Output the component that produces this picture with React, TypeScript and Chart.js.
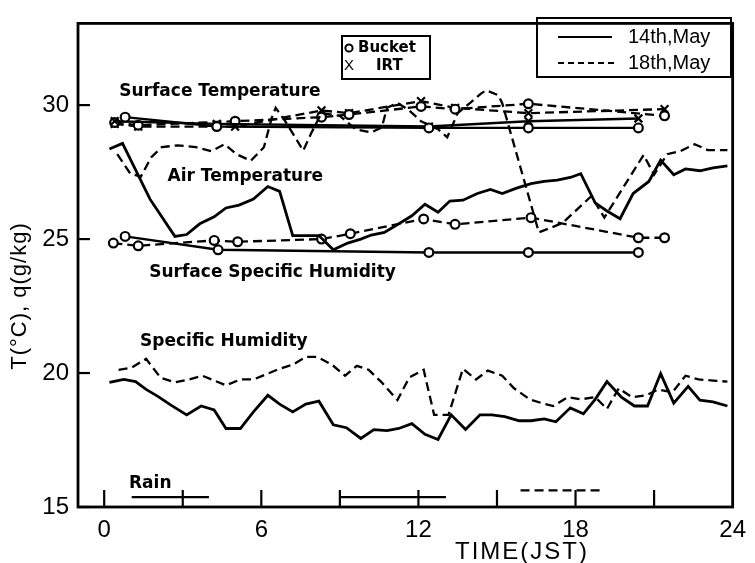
import React, { useEffect, useRef } from "react";
import { Chart, registerables } from "chart.js";

Chart.register(...registerables);

// ---------------- DATA ----------------
const xTickLabels = [0, 6, 12, 18, 24];
const xMinorTicks = [0, 3, 6, 9, 12, 15, 18, 21];
const yTickLabels = [15, 20, 25, 30];

// Air temperature (degC)
const airT14Time = [0.2, 0.7, 1.75, 2.7, 3.15, 3.65, 4.2, 4.65, 5.15, 5.7, 6.25, 6.7, 7.2, 8.2, 8.75, 9.3, 9.8, 10.2, 10.7, 11.3, 11.75, 12.25, 12.75, 13.2, 13.7, 14.25, 14.75, 15.2, 15.75, 16.3, 16.8, 17.3, 17.8, 18.2, 18.75, 19.2, 19.7, 20.2, 20.8, 21.25, 21.75, 22.2, 22.75, 23.25, 23.8];
const airT14 = [28.36, 28.57, 26.49, 25.1, 25.17, 25.57, 25.83, 26.16, 26.27, 26.49, 26.96, 26.78, 25.13, 25.13, 24.6, 24.85, 25.0, 25.15, 25.25, 25.6, 25.87, 26.3, 26.0, 26.42, 26.45, 26.7, 26.85, 26.7, 26.9, 27.07, 27.15, 27.2, 27.3, 27.44, 26.35, 26.05, 25.76, 26.7, 27.15, 27.95, 27.4, 27.62, 27.55, 27.66, 27.73];

const airT18Time = [0.5, 1.0, 1.4, 1.8, 2.2, 2.8, 3.5, 4.1, 4.6, 5.05, 5.6, 6.1, 6.4, 6.55, 6.9, 7.3, 7.6, 7.9, 8.3, 9.0, 9.6, 10.2, 10.6, 10.8, 11.2, 11.65, 12.1, 12.75, 13.1, 13.5, 14.0, 14.4, 14.6, 15.05, 15.2, 16.6, 17.0, 17.5, 18.0, 18.6, 19.1, 20.6, 21.0, 21.5, 22.0, 22.55, 23.05, 23.8];
const airT18 = [28.17, 27.44, 27.33, 28.06, 28.43, 28.5, 28.43, 28.28, 28.54, 28.17, 27.92, 28.43, 29.53, 29.9, 29.42, 28.79, 28.3, 28.94, 29.71, 29.6, 29.1, 28.98, 29.16, 29.9, 30.08, 29.8, 29.4, 29.1, 28.8, 29.7, 30.1, 30.44, 30.55, 30.37, 30.07, 25.25, 25.4, 25.6, 26.05, 26.6, 25.8, 28.14, 27.4, 28.17, 28.28, 28.54, 28.32, 28.32];

// Specific humidity (g/kg)
const q14Time = [0.2, 0.75, 1.2, 1.6, 2.05, 2.55, 3.15, 3.7, 4.2, 4.65, 5.2, 5.7, 6.25, 6.7, 7.2, 7.7, 8.2, 8.75, 9.25, 9.8, 10.3, 10.8, 11.25, 11.75, 12.25, 12.75, 13.25, 13.8, 14.35, 14.8, 15.3, 15.85, 16.3, 16.8, 17.25, 17.8, 18.3, 18.75, 19.2, 19.75, 20.25, 20.75, 21.25, 21.75, 22.3, 22.75, 23.25, 23.8];
const q14 = [19.65, 19.76, 19.68, 19.39, 19.13, 18.8, 18.44, 18.77, 18.62, 17.93, 17.93, 18.55, 19.17, 18.84, 18.55, 18.84, 18.95, 18.07, 17.96, 17.56, 17.89, 17.85, 17.93, 18.11, 17.71, 17.52, 18.44, 17.89, 18.44, 18.44, 18.37, 18.22, 18.22, 18.29, 18.18, 18.7, 18.48, 19.02, 19.68, 19.1, 18.77, 18.77, 19.98, 18.88, 19.5, 18.99, 18.92, 18.77];

const q18Time = [0.55, 1.05, 1.6, 2.15, 2.7, 3.25, 3.75, 4.2, 4.65, 5.2, 5.7, 6.25, 6.7, 7.2, 7.7, 8.15, 8.7, 9.2, 9.65, 10.1, 10.6, 11.2, 11.65, 12.2, 12.6, 13.15, 13.7, 14.2, 14.65, 15.2, 15.65, 16.25, 16.7, 17.15, 17.7, 18.2, 18.75, 19.2, 19.65, 20.15, 20.7, 21.15, 21.7, 22.2, 22.7, 23.25, 23.8];
const q18 = [20.12, 20.2, 20.53, 19.83, 19.65, 19.76, 19.9, 19.72, 19.54, 19.76, 19.76, 19.98, 20.16, 20.31, 20.6, 20.6, 20.31, 19.9, 20.27, 20.12, 19.65, 18.99, 19.83, 20.12, 18.44, 18.44, 20.16, 19.76, 20.09, 19.9, 19.43, 19.02, 18.88, 18.77, 19.1, 19.02, 19.1, 18.66, 19.43, 19.1, 19.17, 19.39, 19.28, 19.9, 19.76, 19.72, 19.68];

// Surface specific humidity (g/kg)
const surfQ14Time = [0.8, 4.35, 12.4, 16.2, 20.4];
const surfQ14 = [25.1, 24.6, 24.5, 24.5, 24.5];
const surfQ18Time = [0.35, 1.3, 4.2, 5.1, 8.3, 9.4, 12.2, 13.4, 16.3, 20.4, 21.4];
const surfQ18 = [24.85, 24.75, 24.95, 24.9, 25.0, 25.2, 25.75, 25.55, 25.8, 25.05, 25.05];

// Surface temperature (degC): Bucket and IRT
const bucket14Time = [0.8, 4.3, 12.4, 16.2, 20.4];
const bucket14 = [29.55, 29.2, 29.15, 29.15, 29.15];
const irt14Time = [0.4, 4.3, 12.4, 16.2, 20.4];
const irt14 = [29.4, 29.3, 29.2, 29.4, 29.5];
const bucket18Time = [0.4, 1.3, 5.0, 8.3, 9.35, 12.1, 13.4, 16.2, 21.4];
const bucket18 = [29.35, 29.25, 29.4, 29.55, 29.65, 29.95, 29.85, 30.05, 29.6];
const irt18Time = [0.4, 1.3, 5.0, 8.3, 9.35, 12.1, 13.4, 16.2, 21.4];
const irt18 = [29.3, 29.2, 29.2, 29.8, 29.7, 30.15, 29.9, 29.7, 29.85];

// Rain periods (hours JST)
const rain14Start = [1.05, 9.0];
const rain14End = [4.0, 13.05];
const rain18Start = [15.9];
const rain18End = [19.0];

// Text
const dayLabels = ["14th,May", "18th,May"];
const sensorLabels = ["Bucket", "IRT"];
const curveLabels = ["Surface Temperature", "Air Temperature", "Surface Specific Humidity", "Specific Humidity", "Rain"];
const xTitle = "TIME(JST)";
const yTitle = "T(°C), q(g/kg)";

// ---------------- PLOT CONFIG ----------------
const X_MIN = -1;
const X_MAX = 24;
const Y_MIN = 15;
const Y_MAX = 33.05;
const RAIN14_LEVEL = 15.37;
const RAIN18_LEVEL = 15.62;
// label anchor points (data units), matched to curveLabels
const labelAnchorX = [4.42, 5.39, 6.43, 4.57, 1.76];
const labelAnchorY = [30.51, 27.33, 23.75, 21.18, 15.88];

const DASH = [9, 5];
const TICK_FONT = "Liberation Sans, Arial, sans-serif";
const BOLD_FONT = "DejaVu Sans, Liberation Sans, sans-serif";

const pts = (xs: number[], ys: number[]) => xs.map((x, i) => ({ x, y: ys[i] }));
const segs = (starts: number[], ends: number[], level: number) => {
  const out: { x: number; y: number | null }[] = [];
  starts.forEach((s, i) => {
    out.push({ x: s, y: level }, { x: ends[i], y: level });
    if (i < starts.length - 1) out.push({ x: (ends[i] + starts[i + 1]) / 2, y: null });
  });
  return out;
};

const lineDs = (label: string, data: any[], dashed: boolean, width = 2.8) => ({
  label,
  data,
  borderColor: "#000",
  backgroundColor: "#000",
  borderWidth: dashed ? 2.3 : width,
  borderDash: dashed ? DASH : [],
  pointRadius: 0,
  tension: 0,
  fill: false,
  spanGaps: false,
});

const markerDs = (label: string, data: any[], dashed: boolean, style: string) => ({
  ...lineDs(label, data, dashed, 2.4),
  pointStyle: style,
  pointRadius: style === "circle" ? 4.4 : 5.5,
  pointBorderWidth: 2.2,
  pointBackgroundColor: style === "circle" ? "#fff" : "#000",
  pointBorderColor: "#000",
});

const decorPlugin = {
  id: "decor",
  afterDraw(chart: any) {
    const { ctx, chartArea: a, scales } = chart;
    const xs = scales.x;
    const ys = scales.y;
    ctx.save();
    ctx.strokeStyle = "#000";
    ctx.fillStyle = "#000";
    // frame
    ctx.lineWidth = 2.8;
    ctx.setLineDash([]);
    ctx.strokeRect(a.left, a.top, a.right - a.left, a.bottom - a.top);
    // inside ticks x
    ctx.lineWidth = 2.2;
    xMinorTicks.forEach((v) => {
      const px = xs.getPixelForValue(v);
      ctx.beginPath();
      ctx.moveTo(px, a.bottom);
      ctx.lineTo(px, a.bottom - 17);
      ctx.stroke();
    });
    // inside ticks y
    yTickLabels.forEach((v) => {
      const py = ys.getPixelForValue(v);
      ctx.beginPath();
      ctx.moveTo(a.left, py);
      ctx.lineTo(a.left + 12, py);
      ctx.stroke();
    });
    // curve labels
    ctx.font = `bold 17px ${BOLD_FONT}`;
    ctx.textAlign = "center";
    ctx.textBaseline = "middle";
    curveLabels.forEach((t, i) => {
      ctx.fillText(t, xs.getPixelForValue(labelAnchorX[i]), ys.getPixelForValue(labelAnchorY[i]));
    });
    // sensor legend box
    ctx.lineWidth = 2;
    ctx.strokeRect(342, 36, 88, 43);
    ctx.beginPath();
    ctx.arc(349, 48, 3.6, 0, Math.PI * 2);
    ctx.stroke();
    ctx.font = `15px ${TICK_FONT}`;
    ctx.fillText("X", 349, 66);
    ctx.textAlign = "left";
    ctx.font = `bold 15px ${BOLD_FONT}`;
    ctx.fillText(sensorLabels[0], 358, 48);
    ctx.fillText(sensorLabels[1], 376, 66);
    // day legend box
    ctx.strokeRect(537, 18, 194, 59);
    ctx.beginPath();
    ctx.moveTo(558, 37);
    ctx.lineTo(612, 37);
    ctx.stroke();
    ctx.setLineDash([6, 4]);
    ctx.beginPath();
    ctx.moveTo(558, 63);
    ctx.lineTo(614, 63);
    ctx.stroke();
    ctx.setLineDash([]);
    ctx.font = `20px ${TICK_FONT}`;
    ctx.fillText(dayLabels[0], 628, 37);
    ctx.fillText(dayLabels[1], 628, 63);
    // axis titles
    ctx.textAlign = "center";
    ctx.font = `24px ${TICK_FONT}`;
    (ctx as any).letterSpacing = "2px";
    ctx.fillText(xTitle, 522, 552);
    (ctx as any).letterSpacing = "1px";
    ctx.translate(20, 296);
    ctx.rotate(-Math.PI / 2);
    ctx.font = `22px ${TICK_FONT}`;
    ctx.fillText(yTitle, 0, 0);
    ctx.restore();
  },
};

export default function App() {
  const ref = useRef<HTMLCanvasElement>(null);
  useEffect(() => {
    if (!ref.current) return;
    const chart = new Chart(ref.current, {
      type: "line",
      data: {
        datasets: [
          lineDs("Air T 14th", pts(airT14Time, airT14), false),
          lineDs("Air T 18th", pts(airT18Time, airT18), true),
          lineDs("q 14th", pts(q14Time, q14), false),
          lineDs("q 18th", pts(q18Time, q18), true),
          markerDs("Surface q 14th", pts(surfQ14Time, surfQ14), false, "circle"),
          markerDs("Surface q 18th", pts(surfQ18Time, surfQ18), true, "circle"),
          markerDs("Bucket 14th", pts(bucket14Time, bucket14), false, "circle"),
          markerDs("IRT 14th", pts(irt14Time, irt14), false, "crossRot"),
          markerDs("Bucket 18th", pts(bucket18Time, bucket18), true, "circle"),
          markerDs("IRT 18th", pts(irt18Time, irt18), true, "crossRot"),
          lineDs("Rain 14th", segs(rain14Start, rain14End, RAIN14_LEVEL), false, 2.2),
          lineDs("Rain 18th", segs(rain18Start, rain18End, RAIN18_LEVEL), true),
        ] as any,
      },
      options: {
        responsive: false,
        animation: false,
        layout: { padding: { top: 13, right: 8, left: 0, bottom: 0 } },
        plugins: { legend: { display: false }, tooltip: { enabled: false }, title: { display: false } },
        scales: {
          x: {
            type: "linear",
            min: X_MIN,
            max: X_MAX,
            afterBuildTicks: (s: any) => {
              s.ticks = xTickLabels.map((v) => ({ value: v }));
            },
            afterFit: (s: any) => {
              s.height = 56;
            },
            grid: { display: false, drawTicks: false },
            border: { display: false },
            ticks: { color: "#000", font: { family: TICK_FONT, size: 24 }, padding: 9, maxRotation: 0, autoSkip: false },
          },
          y: {
            type: "linear",
            min: Y_MIN,
            max: Y_MAX,
            afterBuildTicks: (s: any) => {
              s.ticks = yTickLabels.map((v) => ({ value: v }));
            },
            afterFit: (s: any) => {
              s.width = 78;
            },
            grid: { display: false, drawTicks: false },
            border: { display: false },
            ticks: { color: "#000", font: { family: TICK_FONT, size: 24 }, padding: 9 },
          },
        },
      } as any,
      plugins: [decorPlugin],
    });
    return () => chart.destroy();
  }, []);
  return (
    <div style={{ position: "fixed", left: 0, top: 0, width: 755, height: 563, background: "#fff" }}>
      <canvas ref={ref} width={755} height={563} />
    </div>
  );
}
